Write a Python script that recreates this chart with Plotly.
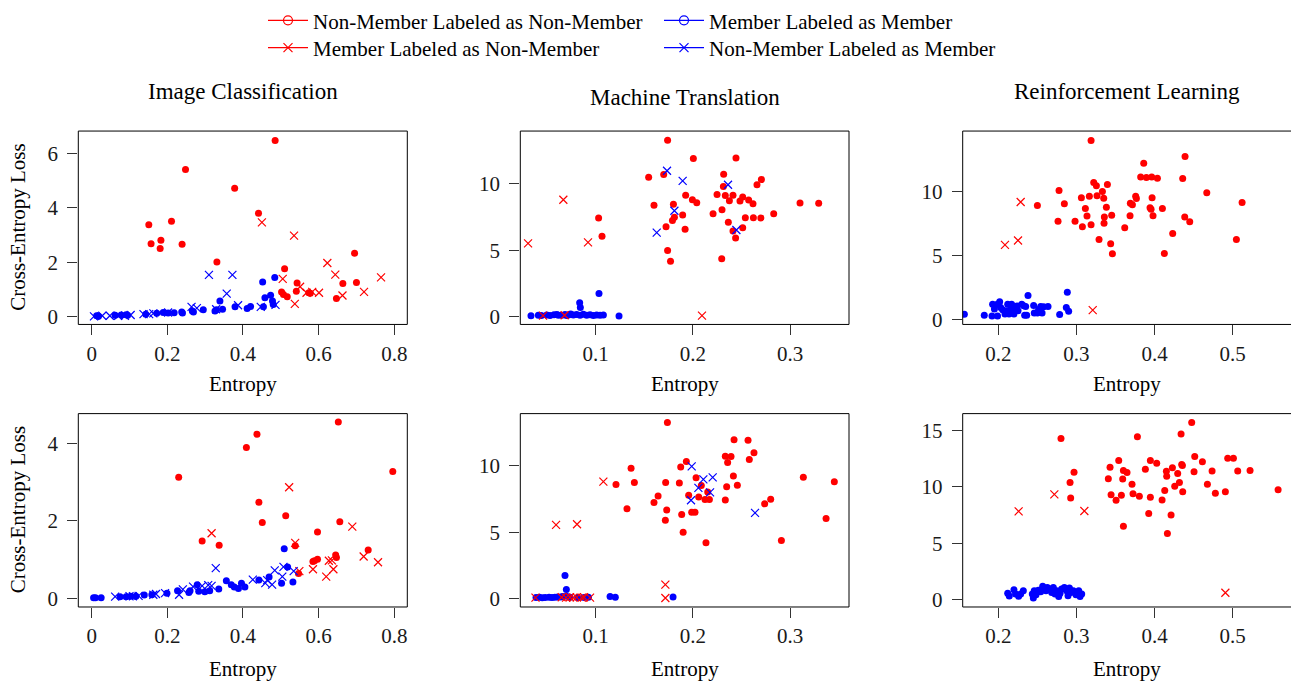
import plotly.graph_objects as go

FONT = "Liberation Serif"
RED = "#ff0000"
BLUE = "#0000ff"

# ---------------- data ----------------
# Top-left: Image Classification (row 1)
ic1_nn_x = [0.151,0.157,0.183,0.181,0.211,0.239,0.248,0.331,0.378,0.441,0.485,0.510,0.543,0.541,0.502,0.507,0.517,0.574,0.578,0.647,0.664,0.695,0.700]
ic1_nn_y = [3.38,2.68,2.81,2.50,3.51,2.66,5.42,2.01,4.73,3.81,6.49,1.76,1.23,0.93,0.90,0.81,0.72,0.87,0.85,0.66,1.21,2.33,1.25]
ic1_mn_x = [0.450,0.535,0.505,0.537,0.551,0.568,0.583,0.601,0.623,0.644,0.663,0.720,0.765]
ic1_mn_y = [3.47,2.98,1.38,0.46,1.09,0.87,0.90,0.87,1.97,1.54,0.77,0.90,1.44]
ic1_mm_x = [0.013,0.018,0.062,0.078,0.091,0.095,0.143,0.172,0.189,0.202,0.218,0.238,0.240,0.266,0.269,0.295,0.326,0.330,0.339,0.346,0.379,0.411,0.420,0.452,0.458,0.454,0.473,0.478,0.484,0.480]
ic1_mm_y = [0.02,0.00,0.04,0.05,0.06,0.04,0.08,0.11,0.14,0.12,0.13,0.16,0.12,0.20,0.16,0.24,0.20,0.24,0.57,0.26,0.35,0.29,0.36,1.27,0.69,0.35,0.78,0.57,1.43,0.44]
ic1_nm_x = [0.006,0.028,0.048,0.070,0.088,0.103,0.137,0.152,0.163,0.202,0.264,0.278,0.310,0.372,0.357,0.387,0.447,0.486,0.329]
ic1_nm_y = [0.00,0.02,0.02,0.02,0.02,0.05,0.08,0.08,0.11,0.14,0.35,0.30,1.53,1.53,0.84,0.41,0.35,0.42,0.26]

# Top-middle: Machine Translation (row 1)
mt1_nn_x = [0.103,0.1065,0.1545,0.160,0.170,0.174,0.1724,0.174,0.177,0.179,0.180,0.181,0.1895,0.192,0.1926,0.2005,0.1995,0.204,0.2208,0.2249,0.230,0.2297,0.2317,0.2314,0.2334,0.2365,0.2376,0.2413,0.2413,0.244,0.2444,0.2485,0.2513,0.2513,0.254,0.2574,0.2619,0.2623,0.266,0.2705,0.270,0.2832,0.3103,0.3295]
mt1_nn_y = [7.43,6.05,10.49,8.38,10.69,13.28,6.76,4.98,4.17,7.23,8.46,7.48,7.65,6.57,9.14,11.91,8.80,8.58,7.75,9.19,8.04,4.36,10.71,9.80,9.12,7.11,8.73,9.14,6.45,5.91,11.94,8.70,9.00,6.69,7.45,8.77,8.50,7.45,9.93,10.32,7.43,7.75,8.55,8.53]
mt1_mn_x = [0.0304,0.0667,0.0921,0.0458,0.068,0.2094]
mt1_mn_y = [5.51,8.80,5.59,0.07,0.10,0.07]
mt1_mm_x = [0.0334,0.041,0.044,0.0496,0.053,0.0571,0.0616,0.065,0.0684,0.0719,0.0743,0.077,0.0804,0.0839,0.0873,0.0907,0.0942,0.0976,0.101,0.1045,0.1079,0.124,0.0835,0.0842,0.1034,0.060,0.070]
mt1_mm_y = [0.06,0.10,0.08,0.12,0.09,0.14,0.11,0.10,0.16,0.13,0.20,0.12,0.15,0.10,0.18,0.11,0.14,0.09,0.12,0.10,0.13,0.05,1.05,0.69,1.74,0.15,0.08]
mt1_nm_x = [0.1734,0.1895,0.2362,0.181,0.1628,0.2448]
mt1_nm_y = [10.98,10.22,9.93,7.97,6.32,6.52]

# Top-right: Reinforcement Learning (row 1)
rl1_nn_x = [0.250,0.2764,0.2777,0.2845,0.2982,0.3063,0.3076,0.3114,0.3135,0.3165,0.3187,0.3187,0.3221,0.3255,0.3263,0.3289,0.3332,0.3349,0.3353,0.3357,0.3383,0.3396,0.3438,0.3451,0.346,0.3618,0.3686,0.369,0.3716,0.3758,0.3767,0.3822,0.3861,0.3895,0.3963,0.3968,0.3942,0.3955,0.3980,0.4036,0.410,0.4125,0.4232,0.436,0.439,0.4386,0.445,0.4668,0.5047,0.512]
rl1_nn_y = [8.91,7.69,10.08,9.06,7.69,9.52,7.26,8.68,8.10,9.64,7.41,13.98,10.71,10.46,9.67,6.27,10.0,9.49,7.54,8.02,8.78,10.56,5.94,8.15,5.15,7.18,8.12,9.09,8.98,9.64,9.47,11.14,12.21,11.09,11.14,9.52,8.73,8.63,8.12,11.04,8.68,5.18,6.73,11.02,12.74,8.02,7.64,9.90,6.27,9.14]
rl1_mn_x = [0.2286,0.2085,0.2252,0.3208]
rl1_mn_y = [9.19,5.84,6.19,0.76]
rl1_mm_x = [0.1565,0.182,0.1927,0.1919,0.195,0.198,0.199,0.2017,0.203,0.2055,0.2085,0.211,0.212,0.2137,0.216,0.217,0.220,0.2218,0.224,0.2252,0.230,0.2324,0.235,0.2337,0.2363,0.238,0.2452,0.246,0.250,0.2516,0.2542,0.256,0.258,0.2636,0.2785,0.287,0.2883,0.290]
rl1_mm_y = [0.43,0.36,1.22,0.30,0.84,1.19,0.30,1.40,0.96,0.79,0.46,0.71,1.22,0.46,0.81,1.22,0.46,0.89,1.07,0.71,1.22,1.09,1.04,0.36,0.36,1.90,1.12,0.53,0.53,0.81,1.04,0.53,1.02,1.04,0.41,0.96,2.16,0.66]
rl1_nm_x = []
rl1_nm_y = []

# Bottom-left: Image Classification (row 2)
ic2_nn_x = [0.230,0.292,0.337,0.409,0.437,0.442,0.451,0.513,0.538,0.547,0.585,0.589,0.597,0.597,0.645,0.647,0.652,0.656,0.731,0.796]
ic2_nn_y = [3.13,1.48,1.37,3.90,4.24,2.48,1.96,2.13,1.36,0.64,0.95,0.97,1.01,1.71,1.12,1.05,4.56,1.98,1.25,3.28]
ic2_mn_x = [0.317,0.522,0.538,0.549,0.585,0.620,0.627,0.635,0.639,0.689,0.719,0.757]
ic2_mn_y = [1.68,2.87,1.43,0.70,0.75,0.56,0.97,0.98,0.75,1.85,1.08,0.93]
ic2_mm_x = [0.005,0.010,0.025,0.075,0.091,0.103,0.117,0.139,0.159,0.199,0.227,0.257,0.260,0.279,0.283,0.299,0.312,0.336,0.356,0.369,0.377,0.388,0.396,0.405,0.442,0.469,0.502,0.509,0.518,0.532]
ic2_mm_y = [0.01,0.01,0.01,0.04,0.04,0.05,0.05,0.08,0.09,0.13,0.19,0.15,0.19,0.35,0.18,0.17,0.19,0.24,0.45,0.35,0.29,0.25,0.39,0.29,0.47,0.55,0.39,1.28,0.81,0.42]
ic2_nm_x = [0.062,0.100,0.109,0.124,0.163,0.170,0.194,0.231,0.241,0.268,0.292,0.308,0.317,0.328,0.426,0.459,0.464,0.477,0.484,0.504,0.507,0.534]
ic2_nm_y = [0.04,0.05,0.05,0.06,0.09,0.11,0.13,0.09,0.23,0.30,0.32,0.34,0.32,0.78,0.48,0.39,0.47,0.35,0.72,0.56,0.81,0.70]

# Bottom-middle: Machine Translation (row 2)
mt2_nn_x = [0.1209,0.1322,0.1364,0.1398,0.160,0.1642,0.172,0.1731,0.1717,0.1738,0.1861,0.1875,0.1885,0.190,0.1933,0.1957,0.1988,0.2022,0.2033,0.206,0.2087,0.2125,0.2135,0.2153,0.2170,0.2334,0.2334,0.2348,0.2358,0.2393,0.2417,0.2424,0.2458,0.2568,0.2581,0.2629,0.2739,0.2801,0.2911,0.3137,0.3371,0.3456]
mt2_nn_y = [8.56,6.76,9.78,8.71,7.22,7.71,8.71,6.66,5.90,13.22,8.68,9.88,6.32,5.0,10.29,7.76,6.49,6.49,9.07,7.63,8.49,7.44,4.20,8.0,7.44,10.68,7.41,8.41,10.22,10.66,9.20,11.93,8.51,11.88,10.44,10.95,7.12,7.46,4.37,9.12,6.02,8.78]
mt2_mn_x = [0.1079,0.0592,0.0808,0.1717,0.1717,0.038,0.065,0.0695,0.0736,0.077,0.0804,0.0856,0.088,0.0942]
mt2_mn_y = [8.78,5.54,5.59,1.07,0.07,0.10,0.12,0.10,0.12,0.10,0.11,0.10,0.12,0.10]
mt2_mm_x = [0.0684,0.0698,0.0386,0.042,0.045,0.048,0.052,0.055,0.058,0.061,0.064,0.066,0.070,0.0736,0.0815,0.088,0.0925,0.1148,0.1202,0.1796]
mt2_mm_y = [1.76,0.71,0.10,0.12,0.09,0.11,0.13,0.10,0.12,0.14,0.15,0.18,0.20,0.13,0.11,0.10,0.12,0.17,0.12,0.15]
mt2_nm_x = [0.1988,0.1981,0.2057,0.2108,0.2204,0.2177,0.264]
mt2_nm_y = [9.93,7.39,8.32,8.95,9.10,7.98,6.44]

# Bottom-right: Reinforcement Learning (row 2)
rl2_nn_x = [0.2802,0.2918,0.2926,0.2969,0.3408,0.343,0.3443,0.3507,0.3541,0.3575,0.3592,0.3601,0.3601,0.3647,0.3711,0.3724,0.378,0.3805,0.3882,0.3925,0.3946,0.3946,0.4027,0.4096,0.413,0.4151,0.4155,0.4164,0.4211,0.4228,0.4258,0.4296,0.4318,0.4339,0.4347,0.4356,0.436,0.4475,0.4514,0.4505,0.4612,0.4676,0.4736,0.4778,0.4906,0.4936,0.5009,0.5064,0.5222,0.5581]
rl2_nn_y = [14.28,10.37,9.01,11.29,10.71,11.72,9.30,8.81,12.32,9.24,10.68,11.43,6.51,11.26,10.22,9.39,14.43,9.16,11.55,7.63,12.32,9.07,12.09,8.84,9.67,11.37,10.94,5.87,7.51,11.69,10.05,11.17,10.37,14.66,11.98,11.89,9.56,15.69,12.67,11.32,12.21,10.22,11.40,9.42,9.56,12.53,12.53,11.40,11.43,9.73]
rl2_mn_x = [0.226,0.2717,0.3101,0.4906]
rl2_mn_y = [7.83,9.33,7.86,0.63]
rl2_mm_x = [0.212,0.214,0.220,0.222,0.226,0.2286,0.232,0.2435,0.2448,0.246,0.2482,0.2512,0.2542,0.2568,0.2585,0.261,0.2627,0.2662,0.2683,0.2704,0.2726,0.2747,0.2773,0.279,0.281,0.2845,0.2875,0.2892,0.291,0.293,0.296,0.2994,0.3029,0.3046,0.3067]
rl2_mm_y = [0.58,0.35,0.89,0.52,0.32,0.52,0.81,0.52,0.17,0.81,0.46,0.86,0.72,1.21,0.95,0.81,1.09,0.95,0.66,1.09,0.52,0.81,0.29,0.58,0.95,1.09,0.81,0.37,1.04,0.66,0.81,0.46,0.81,0.29,0.52]
rl2_nm_x = []
rl2_nm_y = []

panel_titles = ["Image Classification", "Machine Translation", "Reinforcement Learning"]
series_names = ["Non-Member Labeled as Non-Member", "Member Labeled as Member",
                "Member Labeled as Non-Member", "Non-Member Labeled as Member"]

x_ticks_ic = [0, 0.2, 0.4, 0.6, 0.8]
x_ticks_mt = [0.1, 0.2, 0.3]
x_ticks_rl = [0.2, 0.3, 0.4, 0.5]
y_ticks_ic1 = [0, 2, 4, 6]
y_ticks_ic2 = [0, 2, 4]
y_ticks_mt = [0, 5, 10]
y_ticks_rl1 = [0, 5, 10]
y_ticks_rl2 = [0, 5, 10, 15]

# ---------------- layout geometry ----------------
W, H = 1291, 686
col_px = [(78.3, 407.3), (520.3, 849.0), (962.7, 1291.0)]
row_px = [(126.0, 324.0), (415.3, 613.3)]
x_ranges = [(-0.0354, 0.8344), (0.0224, 0.3607), (0.1544, 0.5746)]
y_ranges = [[(-0.30, 6.84), (-0.59, 13.97), (-0.36, 14.72)],
            [(-0.227, 4.775), (-0.607, 13.88), (-0.63, 16.47)]]
x_tickvals = [x_ticks_ic, x_ticks_mt, x_ticks_rl]
y_tickvals = [[y_ticks_ic1, y_ticks_mt, y_ticks_rl1],
              [y_ticks_ic2, y_ticks_mt, y_ticks_rl2]]

panels = [
    [(ic1_nn_x, ic1_nn_y, ic1_mm_x, ic1_mm_y, ic1_mn_x, ic1_mn_y, ic1_nm_x, ic1_nm_y),
     (mt1_nn_x, mt1_nn_y, mt1_mm_x, mt1_mm_y, mt1_mn_x, mt1_mn_y, mt1_nm_x, mt1_nm_y),
     (rl1_nn_x, rl1_nn_y, rl1_mm_x, rl1_mm_y, rl1_mn_x, rl1_mn_y, rl1_nm_x, rl1_nm_y)],
    [(ic2_nn_x, ic2_nn_y, ic2_mm_x, ic2_mm_y, ic2_mn_x, ic2_mn_y, ic2_nm_x, ic2_nm_y),
     (mt2_nn_x, mt2_nn_y, mt2_mm_x, mt2_mm_y, mt2_mn_x, mt2_mn_y, mt2_nm_x, mt2_nm_y),
     (rl2_nn_x, rl2_nn_y, rl2_mm_x, rl2_mm_y, rl2_mn_x, rl2_mn_y, rl2_nm_x, rl2_nm_y)],
]

fig = go.Figure()
layout = dict(width=W, height=H, margin=dict(l=0, r=0, t=0, b=0),
              paper_bgcolor="white", plot_bgcolor="white",
              font=dict(family=FONT, size=20, color="black"),
              showlegend=True)
annotations = []
shapes = []

tick_font = dict(family=FONT, size=21, color="#1a1a1a")
label_font = dict(family=FONT, size=21, color="black")

for r in range(2):
    for c in range(3):
        k = r * 3 + c + 1
        xa = "x" if k == 1 else f"x{k}"
        ya = "y" if k == 1 else f"y{k}"
        xkey = "xaxis" if k == 1 else f"xaxis{k}"
        ykey = "yaxis" if k == 1 else f"yaxis{k}"
        x0p, x1p = col_px[c]
        y0p, y1p = row_px[r]
        layout[xkey] = dict(domain=[x0p / W, min(x1p / W, 1.0)], anchor=ya,
                            range=list(x_ranges[c]), tickvals=x_tickvals[c],
                            ticktext=[f"{v:g}" for v in x_tickvals[c]],
                            ticks="outside", ticklen=10, tickwidth=1, tickcolor="#333333",
                            showgrid=False, zeroline=False, showline=False,
                            tickfont=tick_font)
        layout[ykey] = dict(domain=[1 - y1p / H, 1 - y0p / H], anchor=xa,
                            range=list(y_ranges[r][c]), tickvals=y_tickvals[r][c],
                            ticktext=[f"{v:g}" for v in y_tickvals[r][c]],
                            ticks="outside", ticklen=10, tickwidth=1, tickcolor="#333333",
                            showgrid=False, zeroline=False, showline=False,
                            ticklabelstandoff=5, tickfont=tick_font)
        # frame
        shapes.append(dict(type="rect", xref=f"{xa} domain", yref=f"{ya} domain",
                           x0=0, x1=1.02 if c == 2 else 1, y0=0, y1=1,
                           line=dict(color="black", width=1), layer="above"))
        nn_x, nn_y, mm_x, mm_y, mn_x, mn_y, nm_x, nm_y = panels[r][c]
        for (xs, ys, col, sym) in [(nn_x, nn_y, RED, "circle"),
                                   (mm_x, mm_y, BLUE, "circle"),
                                   (mn_x, mn_y, RED, "x-thin"),
                                   (nm_x, nm_y, BLUE, "x-thin")]:
            if sym == "circle":
                mk = dict(symbol="circle", size=7, color=col, line=dict(width=0))
            else:
                mk = dict(symbol="x-thin", size=8, color=col, line=dict(width=1.2, color=col))
            fig.add_trace(go.Scatter(x=xs, y=ys, mode="markers", marker=mk,
                                     xaxis=xa, yaxis=ya, showlegend=False,
                                     hoverinfo="skip"))
        # x-axis title
        xc = (x0p + (1291.7 if c == 2 else x1p)) / 2
        annotations.append(dict(text="Entropy", x=xc / W,
                                y=1 - (y1p + 61 + 2 * r) / H, xref="paper", yref="paper",
                                showarrow=False, xanchor="center", yanchor="middle",
                                font=label_font))
        if c == 0:
            annotations.append(dict(text="Cross-Entropy Loss", x=18 / W,
                                    y=1 - (y0p + y1p) / 2 / H, xref="paper", yref="paper",
                                    showarrow=False, textangle=-90, xanchor="center", yanchor="middle",
                                    font=label_font))

title_y = [86, 92, 86]
title_xc = [242.8, 684.7, 1127.2]
for i, t in enumerate(panel_titles):
    annotations.append(dict(text=t, x=title_xc[i] / W, y=1 - title_y[i] / H,
                            xref="paper", yref="paper", showarrow=False,
                            xanchor="center", yanchor="middle",
                            font=dict(family=FONT, size=23, color="black")))

# legend-only traces
leg_specs = [(series_names[0], RED, "circle-open", "legend"),
             (series_names[1], BLUE, "circle-open", "legend"),
             (series_names[2], RED, "x-thin", "legend2"),
             (series_names[3], BLUE, "x-thin", "legend2")]
for name, col, sym, lg in leg_specs:
    fig.add_trace(go.Scatter(x=[None], y=[None], mode="lines+markers", name=name,
                             line=dict(color=col, width=1.2),
                             marker=dict(symbol=sym, size=9, color=col, line=dict(width=1.2, color=col)),
                             xaxis="x", yaxis="y", legend=lg, showlegend=True))

leg_common = dict(orientation="h", xanchor="left", yanchor="middle",
                  entrywidth=341, entrywidthmode="pixels", bgcolor="rgba(0,0,0,0)",
                  font=dict(family=FONT, size=21, color="black"), itemwidth=40)
layout["legend"] = dict(leg_common, x=263 / W, y=1 - 13 / H)
layout["legend2"] = dict(leg_common, x=263 / W, y=1 - 41 / H)
layout["annotations"] = annotations
layout["shapes"] = shapes
fig.update_layout(**layout)
fig.write_html("out.html")
